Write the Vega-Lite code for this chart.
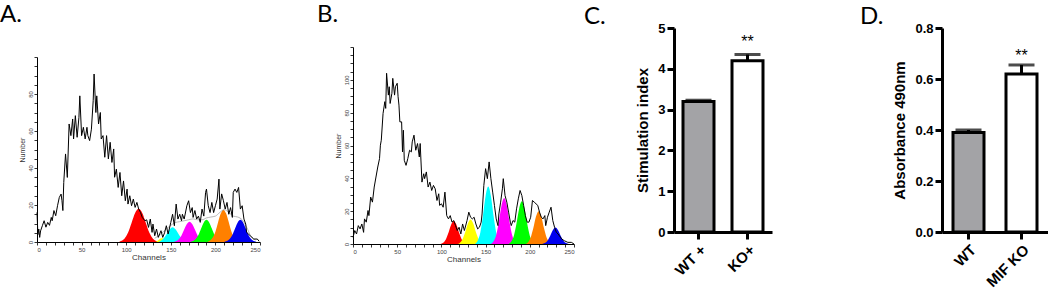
{
  "$schema": "https://vega.github.io/schema/vega-lite/v6.json",
  "padding": {"left": 0, "top": 3, "right": 0, "bottom": 0},
  "autosize": {"type": "pad"},
  "background": "white",
  "config": {"view": {"stroke": null}, "axis": {"grid": false}},
  "columns": 2,
  "align": "none",
  "spacing": 88,
  "concat": [
    {
      "columns": 2,
      "align": "none",
      "spacing": 8,
      "concat": [
        {
          "columns": 2,
          "align": "none",
          "spacing": 55,
          "concat": [
            {
              "width": 223,
              "height": 214,
              "title": {"text": "A.", "anchor": "start", "frame": "group", "dx": -37, "offset": -18, "fontSize": 24, "font": "Lato", "fontWeight": "normal", "baseline": "alphabetic", "color": "black"},
              "encoding": {
                "x": {"field": "ch", "type": "quantitative", "scale": {"domain": [0, 250], "nice": false},
                  "axis": {"title": "Channels", "values": [0,10,20,30,40,50,60,70,80,90,100,110,120,130,140,150,160,170,180,190,200,210,220,230,240,250], "labelExpr": "datum.value % 50 === 0 ? datum.label : ''", "labelOverlap": false, "labelFontSize": 6, "labelColor": "#444", "labelFont": "Liberation Sans", "labelPadding": 1, "tickSize": 3, "tickColor": "black", "tickWidth": 0.8, "domainColor": "black", "domainWidth": 1, "titleFontSize": 8, "titleFontWeight": "normal", "titleFont": "Liberation Sans", "titleColor": "#333", "titlePadding": 1}},
                "y": {"field": "n", "type": "quantitative", "stack": null, "scale": {"domain": [0, 100], "nice": false, "range": [214, 29]},
                  "axis": {"title": "Number", "values": [0,5,10,15,20,25,30,35,40,45,50,55,60,65,70,75,80,85,90,95,100], "labelExpr": "datum.value % 20 === 0 && datum.value < 100 ? datum.label : ''", "labelOverlap": false, "labelAngle": 270, "labelFontSize": 6, "labelColor": "#444", "labelFont": "Liberation Sans", "labelPadding": 1, "tickSize": 3, "tickColor": "black", "tickWidth": 0.8, "domainColor": "black", "domainWidth": 1, "titleFontSize": 7, "titleFontWeight": "normal", "titleFont": "Liberation Sans", "titleColor": "#333", "titlePadding": 2}}
              },
              "layer": [
                {
                  "data": {"values": [
                    {"peak":"red","ch":92,"n":0},{"peak":"red","ch":94,"n":0.5},{"peak":"red","ch":98,"n":1.8},{"peak":"red","ch":102,"n":5},{"peak":"red","ch":106,"n":10.3},{"peak":"red","ch":110,"n":15.7},{"peak":"red","ch":114,"n":18},{"peak":"red","ch":118,"n":15.7},{"peak":"red","ch":122,"n":10.3},{"peak":"red","ch":126,"n":5},{"peak":"red","ch":130,"n":1.8},{"peak":"red","ch":134,"n":0.5},{"peak":"red","ch":136,"n":0},
                    {"peak":"yellow","ch":133,"n":0},{"peak":"yellow","ch":136,"n":1},{"peak":"yellow","ch":138,"n":1.8},{"peak":"yellow","ch":140,"n":2},{"peak":"yellow","ch":142,"n":1.8},{"peak":"yellow","ch":144,"n":1},{"peak":"yellow","ch":147,"n":0},
                    {"peak":"cyan","ch":136,"n":0},{"peak":"cyan","ch":140,"n":1.1},{"peak":"cyan","ch":143,"n":2.6},{"peak":"cyan","ch":146,"n":4.9},{"peak":"cyan","ch":149,"n":7},{"peak":"cyan","ch":152,"n":8},{"peak":"cyan","ch":155,"n":7},{"peak":"cyan","ch":158,"n":4.9},{"peak":"cyan","ch":161,"n":2.6},{"peak":"cyan","ch":164,"n":1.1},{"peak":"cyan","ch":168,"n":0.2},{"peak":"cyan","ch":170,"n":0},
                    {"peak":"magenta","ch":153,"n":0},{"peak":"magenta","ch":155,"n":0.3},{"peak":"magenta","ch":159,"n":1.5},{"peak":"magenta","ch":162,"n":3.5},{"peak":"magenta","ch":165,"n":6.7},{"peak":"magenta","ch":168,"n":9.7},{"peak":"magenta","ch":171,"n":11},{"peak":"magenta","ch":174,"n":9.7},{"peak":"magenta","ch":177,"n":6.7},{"peak":"magenta","ch":180,"n":3.5},{"peak":"magenta","ch":183,"n":1.5},{"peak":"magenta","ch":187,"n":0.3},{"peak":"magenta","ch":189,"n":0},
                    {"peak":"green","ch":172,"n":0},{"peak":"green","ch":174,"n":0.35},{"peak":"green","ch":178,"n":1.6},{"peak":"green","ch":181,"n":3.8},{"peak":"green","ch":184,"n":7.3},{"peak":"green","ch":187,"n":10.6},{"peak":"green","ch":190,"n":12},{"peak":"green","ch":193,"n":10.6},{"peak":"green","ch":196,"n":7.3},{"peak":"green","ch":199,"n":3.8},{"peak":"green","ch":202,"n":1.6},{"peak":"green","ch":206,"n":0.35},{"peak":"green","ch":208,"n":0},
                    {"peak":"orange","ch":191,"n":0},{"peak":"orange","ch":193,"n":0.5},{"peak":"orange","ch":197,"n":2.4},{"peak":"orange","ch":200,"n":5.6},{"peak":"orange","ch":203,"n":10.7},{"peak":"orange","ch":206,"n":15.4},{"peak":"orange","ch":209,"n":17.5},{"peak":"orange","ch":212,"n":15.4},{"peak":"orange","ch":215,"n":10.7},{"peak":"orange","ch":218,"n":5.6},{"peak":"orange","ch":221,"n":2.4},{"peak":"orange","ch":225,"n":0.5},{"peak":"orange","ch":227,"n":0},
                    {"peak":"blue","ch":210,"n":0},{"peak":"blue","ch":212,"n":0.35},{"peak":"blue","ch":216,"n":1.6},{"peak":"blue","ch":219,"n":3.8},{"peak":"blue","ch":222,"n":7.3},{"peak":"blue","ch":225,"n":10.6},{"peak":"blue","ch":228,"n":12},{"peak":"blue","ch":231,"n":10.6},{"peak":"blue","ch":234,"n":7.3},{"peak":"blue","ch":237,"n":3.8},{"peak":"blue","ch":240,"n":1.6},{"peak":"blue","ch":244,"n":0.35},{"peak":"blue","ch":246,"n":0}
                  ]},
                  "mark": {"type": "area", "interpolate": "monotone"},
                  "encoding": {"color": {"field": "peak", "type": "nominal", "legend": null, "scale": {"domain": ["red","yellow","cyan","magenta","green","orange","blue"], "range": ["#ff0000","#ffff00","#00ffff","#ff00ff","#00ff00","#ff8000","#0000f0"]}}}
                },
                {
                  "data": {"values": [
                    {"ch":132,"n":2},{"ch":138,"n":4},{"ch":145,"n":7},{"ch":150,"n":9},{"ch":155,"n":10.5},{"ch":160,"n":11},{"ch":165,"n":11.5},{"ch":170,"n":12},{"ch":175,"n":12.5},{"ch":180,"n":12},{"ch":185,"n":12},{"ch":190,"n":13},{"ch":195,"n":13.5},{"ch":200,"n":14},{"ch":205,"n":16},{"ch":210,"n":17.5},{"ch":215,"n":16},{"ch":220,"n":14},{"ch":225,"n":13.5},{"ch":230,"n":12},{"ch":235,"n":8},{"ch":240,"n":3},{"ch":245,"n":1}
                  ]},
                  "mark": {"type": "line", "color": "#999999", "strokeWidth": 0.7, "interpolate": "monotone"},
                  "encoding": {}
                },
                {
                  "data": {"values": [
                    {"ch":0,"n":16},{"ch":1,"n":4},{"ch":2,"n":7},{"ch":3,"n":2.5},{"ch":4,"n":6},{"ch":6,"n":8.8},{"ch":8,"n":11.5},{"ch":10,"n":8},{"ch":12,"n":10.6},{"ch":14,"n":9},{"ch":16,"n":13.3},{"ch":17,"n":11.5},{"ch":19,"n":17},{"ch":21,"n":14.2},{"ch":23,"n":19.6},{"ch":25,"n":24.1},{"ch":27,"n":25.9},{"ch":28,"n":22.3},{"ch":29,"n":17},{"ch":30,"n":32.2},{"ch":32,"n":47.6},{"ch":34,"n":34.9},{"ch":36,"n":63.8},{"ch":38,"n":57.5},{"ch":40,"n":66.5},{"ch":41,"n":55.7},{"ch":43,"n":68.3},{"ch":45,"n":56.6},{"ch":47,"n":67.4},{"ch":48,"n":79},{"ch":50,"n":57.5},{"ch":52,"n":62},{"ch":54,"n":55.7},{"ch":56,"n":62},{"ch":57,"n":57.5},{"ch":59,"n":54.8},{"ch":61,"n":61},{"ch":63,"n":76.4},{"ch":64,"n":90.8},{"ch":66,"n":70},{"ch":67,"n":79},{"ch":69,"n":63.8},{"ch":71,"n":70},{"ch":72,"n":55.7},{"ch":74,"n":57.5},{"ch":76,"n":45.8},{"ch":78,"n":57.5},{"ch":80,"n":44.9},{"ch":82,"n":53.9},{"ch":84,"n":43},{"ch":86,"n":50.3},{"ch":87,"n":35},{"ch":89,"n":39.4},{"ch":91,"n":29.5},{"ch":93,"n":37.6},{"ch":95,"n":25},{"ch":97,"n":33},{"ch":99,"n":22.3},{"ch":101,"n":28.6},{"ch":102,"n":20.5},{"ch":104,"n":25},{"ch":106,"n":19.6},{"ch":108,"n":23.2},{"ch":110,"n":18.7},{"ch":112,"n":21.4},{"ch":114,"n":17.8},{"ch":116,"n":16},{"ch":118,"n":13.3},{"ch":121,"n":11.5},{"ch":123,"n":12},{"ch":125,"n":7.9},{"ch":127,"n":12.4},{"ch":129,"n":5.2},{"ch":130,"n":9.7},{"ch":132,"n":3.4},{"ch":134,"n":7},{"ch":136,"n":2.5},{"ch":139,"n":6.1},{"ch":141,"n":2.5},{"ch":143,"n":5},{"ch":145,"n":8.8},{"ch":147,"n":4.3},{"ch":150,"n":10.6},{"ch":152,"n":15},{"ch":154,"n":8.8},{"ch":156,"n":20.5},{"ch":158,"n":12.4},{"ch":160,"n":15},{"ch":162,"n":11.5},{"ch":163,"n":15},{"ch":165,"n":12.4},{"ch":168,"n":19.6},{"ch":170,"n":22.3},{"ch":172,"n":15.9},{"ch":174,"n":18.6},{"ch":175,"n":13.3},{"ch":177,"n":17},{"ch":179,"n":12.4},{"ch":181,"n":14},{"ch":183,"n":10.6},{"ch":185,"n":17.8},{"ch":187,"n":14},{"ch":189,"n":26.8},{"ch":190,"n":28.6},{"ch":192,"n":19.6},{"ch":194,"n":15.9},{"ch":196,"n":21.4},{"ch":198,"n":15.9},{"ch":200,"n":19.6},{"ch":202,"n":23.2},{"ch":204,"n":34},{"ch":205,"n":17.8},{"ch":207,"n":26},{"ch":209,"n":22.3},{"ch":211,"n":17.8},{"ch":213,"n":21.4},{"ch":215,"n":15},{"ch":217,"n":18.6},{"ch":219,"n":13.3},{"ch":220,"n":26.8},{"ch":222,"n":28.6},{"ch":224,"n":26.8},{"ch":226,"n":29.5},{"ch":228,"n":17.8},{"ch":230,"n":19.6},{"ch":232,"n":12.4},{"ch":234,"n":9.7},{"ch":235,"n":5.2},{"ch":239,"n":3.4},{"ch":243,"n":1.6},{"ch":247,"n":1.6},{"ch":249,"n":0.4}
                  ]},
                  "mark": {"type": "line", "color": "black", "strokeWidth": 1},
                  "encoding": {}
                }
              ]
            },
            {
              "width": 221,
              "height": 216,
              "title": {"text": "B.", "anchor": "start", "frame": "group", "dx": -36, "offset": -18, "fontSize": 24, "font": "Lato", "fontWeight": "normal", "baseline": "alphabetic", "color": "black"},
              "encoding": {
                "x": {"field": "ch", "type": "quantitative", "scale": {"domain": [0, 250], "nice": false},
                  "axis": {"title": "Channels", "values": [0,10,20,30,40,50,60,70,80,90,100,110,120,130,140,150,160,170,180,190,200,210,220,230,240,250], "labelExpr": "datum.value % 50 === 0 ? datum.label : ''", "labelOverlap": false, "labelFontSize": 6, "labelColor": "#444", "labelFont": "Liberation Sans", "labelPadding": 1, "tickSize": 3, "tickColor": "black", "tickWidth": 0.8, "domainColor": "black", "domainWidth": 1, "titleFontSize": 8, "titleFontWeight": "normal", "titleFont": "Liberation Sans", "titleColor": "#333", "titlePadding": 1}},
                "y": {"field": "n", "type": "quantitative", "stack": null, "scale": {"domain": [0, 120], "nice": false, "range": [216, 19]},
                  "axis": {"title": "Number", "values": [0,5,10,15,20,25,30,35,40,45,50,55,60,65,70,75,80,85,90,95,100,105,110,115,120], "labelExpr": "datum.value % 20 === 0 && datum.value < 120 ? datum.label : ''", "labelOverlap": false, "labelAngle": 270, "labelFontSize": 6, "labelColor": "#444", "labelFont": "Liberation Sans", "labelPadding": 1, "tickSize": 3, "tickColor": "black", "tickWidth": 0.8, "domainColor": "black", "domainWidth": 1, "titleFontSize": 7, "titleFontWeight": "normal", "titleFont": "Liberation Sans", "titleColor": "#333", "titlePadding": 2}}
              },
              "layer": [
                {
                  "data": {"values": [
                    {"peak":"red","ch":99,"n":0},{"peak":"red","ch":102,"n":0.8},{"peak":"red","ch":105,"n":2.8},{"peak":"red","ch":108,"n":6.8},{"peak":"red","ch":111,"n":11.7},{"peak":"red","ch":114,"n":14},{"peak":"red","ch":117,"n":11.7},{"peak":"red","ch":120,"n":6.8},{"peak":"red","ch":123,"n":2.8},{"peak":"red","ch":126,"n":0.8},{"peak":"red","ch":129,"n":0},
                    {"peak":"yellow","ch":118,"n":0},{"peak":"yellow","ch":121,"n":0.8},{"peak":"yellow","ch":124,"n":3},{"peak":"yellow","ch":127,"n":7.3},{"peak":"yellow","ch":130,"n":12.5},{"peak":"yellow","ch":133,"n":15},{"peak":"yellow","ch":136,"n":12.5},{"peak":"yellow","ch":139,"n":7.3},{"peak":"yellow","ch":142,"n":3},{"peak":"yellow","ch":145,"n":0.8},{"peak":"yellow","ch":148,"n":0},
                    {"peak":"cyan","ch":138,"n":0},{"peak":"cyan","ch":141,"n":2},{"peak":"cyan","ch":144,"n":6.9},{"peak":"cyan","ch":147,"n":17},{"peak":"cyan","ch":150,"n":29.2},{"peak":"cyan","ch":153,"n":35},{"peak":"cyan","ch":156,"n":29.2},{"peak":"cyan","ch":159,"n":17},{"peak":"cyan","ch":162,"n":6.9},{"peak":"cyan","ch":165,"n":2},{"peak":"cyan","ch":168,"n":0},
                    {"peak":"magenta","ch":156,"n":0},{"peak":"magenta","ch":159,"n":1.6},{"peak":"magenta","ch":162,"n":5.5},{"peak":"magenta","ch":165,"n":13.6},{"peak":"magenta","ch":168,"n":23.4},{"peak":"magenta","ch":171,"n":28},{"peak":"magenta","ch":174,"n":23.4},{"peak":"magenta","ch":177,"n":13.6},{"peak":"magenta","ch":180,"n":5.5},{"peak":"magenta","ch":183,"n":1.6},{"peak":"magenta","ch":186,"n":0},
                    {"peak":"green","ch":176,"n":0},{"peak":"green","ch":179,"n":1.5},{"peak":"green","ch":182,"n":5.1},{"peak":"green","ch":185,"n":12.7},{"peak":"green","ch":188,"n":21.7},{"peak":"green","ch":191,"n":26},{"peak":"green","ch":194,"n":21.7},{"peak":"green","ch":197,"n":12.7},{"peak":"green","ch":200,"n":5.1},{"peak":"green","ch":203,"n":1.5},{"peak":"green","ch":206,"n":0},
                    {"peak":"orange","ch":195,"n":0},{"peak":"orange","ch":198,"n":1.1},{"peak":"orange","ch":201,"n":4},{"peak":"orange","ch":204,"n":9.7},{"peak":"orange","ch":207,"n":16.7},{"peak":"orange","ch":210,"n":20},{"peak":"orange","ch":213,"n":16.7},{"peak":"orange","ch":216,"n":9.7},{"peak":"orange","ch":219,"n":4},{"peak":"orange","ch":222,"n":1.1},{"peak":"orange","ch":225,"n":0},
                    {"peak":"blue","ch":214,"n":0},{"peak":"blue","ch":217,"n":0.6},{"peak":"blue","ch":220,"n":2},{"peak":"blue","ch":223,"n":4.9},{"peak":"blue","ch":226,"n":8.4},{"peak":"blue","ch":229,"n":10},{"peak":"blue","ch":232,"n":8.4},{"peak":"blue","ch":235,"n":4.9},{"peak":"blue","ch":238,"n":2},{"peak":"blue","ch":241,"n":0.6},{"peak":"blue","ch":244,"n":0}
                  ]},
                  "mark": {"type": "area", "interpolate": "monotone"},
                  "encoding": {"color": {"field": "peak", "type": "nominal", "legend": null, "scale": {"domain": ["red","yellow","cyan","magenta","green","orange","blue"], "range": ["#ff0000","#ffff00","#00ffff","#ff00ff","#00ff00","#ff8000","#0000f0"]}}}
                },
                {
                  "data": {"values": [
                    {"ch":0,"n":4.1},{"ch":2,"n":8.2},{"ch":4,"n":6.1},{"ch":6,"n":11.2},{"ch":8,"n":9.2},{"ch":10,"n":12.2},{"ch":12,"n":7.1},{"ch":13,"n":15.3},{"ch":15,"n":13.3},{"ch":17,"n":20.4},{"ch":18,"n":17.3},{"ch":20,"n":28.6},{"ch":22,"n":25.5},{"ch":24,"n":34.7},{"ch":26,"n":40.8},{"ch":28,"n":46.9},{"ch":30,"n":52},{"ch":31,"n":60.2},{"ch":32,"n":63.2},{"ch":34,"n":79.5},{"ch":36,"n":86.7},{"ch":37,"n":82.6},{"ch":38,"n":104},{"ch":40,"n":90.7},{"ch":41,"n":95.8},{"ch":42,"n":85.6},{"ch":44,"n":91.8},{"ch":45,"n":100.9},{"ch":47,"n":90.7},{"ch":48,"n":95.8},{"ch":50,"n":97.9},{"ch":51,"n":89.7},{"ch":52,"n":84.6},{"ch":53,"n":74.4},{"ch":55,"n":74.4},{"ch":56,"n":56.1},{"ch":57,"n":69.3},{"ch":58,"n":51},{"ch":60,"n":47.9},{"ch":62,"n":52},{"ch":64,"n":57.1},{"ch":66,"n":56.1},{"ch":67,"n":62.2},{"ch":69,"n":66.3},{"ch":71,"n":57.1},{"ch":73,"n":61.2},{"ch":75,"n":53},{"ch":76,"n":61.2},{"ch":78,"n":37.7},{"ch":80,"n":42.8},{"ch":81,"n":39.8},{"ch":83,"n":43.9},{"ch":85,"n":34.7},{"ch":87,"n":37.7},{"ch":89,"n":32.6},{"ch":91,"n":35.7},{"ch":93,"n":33.6},{"ch":95,"n":26.5},{"ch":97,"n":30.6},{"ch":98,"n":23.5},{"ch":100,"n":24.5},{"ch":102,"n":22.4},{"ch":104,"n":31.6},{"ch":106,"n":17.3},{"ch":108,"n":15.3},{"ch":110,"n":17.3},{"ch":112,"n":13.3},{"ch":114,"n":14.3},{"ch":116,"n":11.2},{"ch":118,"n":8.2},{"ch":120,"n":10.2},{"ch":122,"n":6.1},{"ch":124,"n":12.2},{"ch":126,"n":8.2},{"ch":129,"n":14.3},{"ch":131,"n":19.4},{"ch":133,"n":16.3},{"ch":135,"n":15.3},{"ch":137,"n":16.3},{"ch":139,"n":12.2},{"ch":141,"n":9.2},{"ch":143,"n":10.2},{"ch":145,"n":13.3},{"ch":146,"n":18.3},{"ch":148,"n":35.7},{"ch":150,"n":45.9},{"ch":152,"n":39.8},{"ch":154,"n":50},{"ch":156,"n":39.8},{"ch":158,"n":31.6},{"ch":160,"n":23.5},{"ch":162,"n":15.3},{"ch":164,"n":11.2},{"ch":165,"n":18.3},{"ch":167,"n":25.5},{"ch":169,"n":33.6},{"ch":170,"n":39.8},{"ch":172,"n":29.5},{"ch":174,"n":25.5},{"ch":176,"n":19.4},{"ch":178,"n":13.3},{"ch":179,"n":11.2},{"ch":181,"n":14.3},{"ch":183,"n":13.3},{"ch":185,"n":21.4},{"ch":187,"n":27.5},{"ch":189,"n":32.6},{"ch":191,"n":29.5},{"ch":193,"n":23.5},{"ch":195,"n":17.3},{"ch":197,"n":13.3},{"ch":199,"n":13.3},{"ch":201,"n":16.3},{"ch":203,"n":26.5},{"ch":205,"n":25.5},{"ch":207,"n":24.5},{"ch":209,"n":23.5},{"ch":211,"n":19.4},{"ch":213,"n":16.3},{"ch":215,"n":15.3},{"ch":217,"n":17.3},{"ch":218,"n":11.2},{"ch":220,"n":16.3},{"ch":222,"n":19.4},{"ch":224,"n":22.4},{"ch":226,"n":14.3},{"ch":228,"n":10.2},{"ch":230,"n":7.1},{"ch":232,"n":6.1},{"ch":236,"n":3.1},{"ch":239,"n":2},{"ch":243,"n":1},{"ch":247,"n":1},{"ch":250,"n":0}
                  ]},
                  "mark": {"type": "line", "color": "black", "strokeWidth": 1},
                  "encoding": {}
                }
              ]
            }
          ]
        },
        {
          "width": 98,
          "height": 204,
          "title": {"text": "C.", "anchor": "start", "frame": "group", "dx": -90, "offset": -26, "fontSize": 24, "font": "Lato", "fontWeight": "normal", "baseline": "alphabetic", "color": "black"},
          "data": {"values": [
            {"group": "WT +", "value": 3.2, "upper": 3.23, "sig": ""},
            {"group": "KO+", "value": 4.2, "upper": 4.35, "sig": "**"}
          ]},
          "encoding": {
            "x": {"field": "group", "type": "nominal", "sort": null, "scale": {"paddingInner": 0, "paddingOuter": 0},
              "axis": {"title": null, "labelAngle": -45, "labelFont": "Liberation Sans", "labelFontWeight": "bold", "labelFontSize": 15, "labelColor": "black", "labelPadding": 3, "tickSize": 7, "tickWidth": 3, "tickColor": "black", "domainWidth": 3, "domainColor": "black"}}
          },
          "layer": [
            {
              "mark": {"type": "bar", "size": 31, "stroke": "black", "strokeWidth": 3},
              "encoding": {
                "y": {"field": "value", "type": "quantitative", "scale": {"domain": [0, 5], "nice": false},
                  "axis": {"title": "Stimulation index", "values": [0,1,2,3,4,5], "labelFont": "Liberation Sans", "labelFontWeight": "bold", "labelFontSize": 13, "labelColor": "black", "labelPadding": 2, "tickSize": 7, "tickWidth": 3, "tickColor": "black", "domainWidth": 3, "domainColor": "black", "titleFont": "Liberation Sans", "titleFontWeight": "bold", "titleFontSize": 15, "titleColor": "black", "titlePadding": 7}},
                "fill": {"field": "group", "type": "nominal", "sort": null, "legend": null, "scale": {"range": ["#a3a3a6", "#ffffff"]}}
              }
            },
            {
              "mark": {"type": "rule", "strokeWidth": 3, "color": "black"},
              "encoding": {"y": {"field": "value", "type": "quantitative"}, "y2": {"field": "upper"}}
            },
            {
              "mark": {"type": "tick", "thickness": 3, "size": 26, "color": "black"},
              "encoding": {"y": {"field": "upper", "type": "quantitative"}}
            },
            {
              "mark": {"type": "text", "dy": -8, "baseline": "alphabetic", "fontSize": 16, "font": "Liberation Sans", "color": "black"},
              "encoding": {"y": {"field": "upper", "type": "quantitative"}, "text": {"field": "sig"}}
            }
          ]
        }
      ]
    },
    {
      "width": 106,
      "height": 204,
      "title": {"text": "D.", "anchor": "start", "frame": "group", "dx": -82, "offset": -26, "fontSize": 24, "font": "Lato", "fontWeight": "normal", "baseline": "alphabetic", "color": "black"},
      "data": {"values": [
        {"group": "WT", "value": 0.39, "upper": 0.4, "sig": ""},
        {"group": "MIF KO", "value": 0.62, "upper": 0.655, "sig": "**"}
      ]},
      "encoding": {
        "x": {"field": "group", "type": "nominal", "sort": null, "scale": {"paddingInner": 0, "paddingOuter": 0},
          "axis": {"title": null, "labelAngle": -45, "labelFont": "Liberation Sans", "labelFontWeight": "bold", "labelFontSize": 15, "labelColor": "black", "labelPadding": 3, "tickSize": 7, "tickWidth": 3, "tickColor": "black", "domainWidth": 3, "domainColor": "black"}}
      },
      "layer": [
        {
          "mark": {"type": "bar", "size": 31, "stroke": "black", "strokeWidth": 3},
          "encoding": {
            "y": {"field": "value", "type": "quantitative", "scale": {"domain": [0, 0.8], "nice": false},
              "axis": {"title": "Absorbance 490nm", "values": [0, 0.2, 0.4, 0.6, 0.8], "format": ".1f", "labelFont": "Liberation Sans", "labelFontWeight": "bold", "labelFontSize": 13, "labelColor": "black", "labelPadding": 2, "tickSize": 7, "tickWidth": 3, "tickColor": "black", "domainWidth": 3, "domainColor": "black", "titleFont": "Liberation Sans", "titleFontWeight": "bold", "titleFontSize": 15, "titleColor": "black", "titlePadding": 7}},
            "fill": {"field": "group", "type": "nominal", "sort": null, "legend": null, "scale": {"range": ["#a3a3a6", "#ffffff"]}}
          }
        },
        {
          "mark": {"type": "rule", "strokeWidth": 3, "color": "black"},
          "encoding": {"y": {"field": "value", "type": "quantitative"}, "y2": {"field": "upper"}}
        },
        {
          "mark": {"type": "tick", "thickness": 3, "size": 26, "color": "black"},
          "encoding": {"y": {"field": "upper", "type": "quantitative"}}
        },
        {
          "mark": {"type": "text", "dy": -4, "baseline": "alphabetic", "fontSize": 16, "font": "Liberation Sans", "color": "black"},
          "encoding": {"y": {"field": "upper", "type": "quantitative"}, "text": {"field": "sig"}}
        }
      ]
    }
  ]
}
